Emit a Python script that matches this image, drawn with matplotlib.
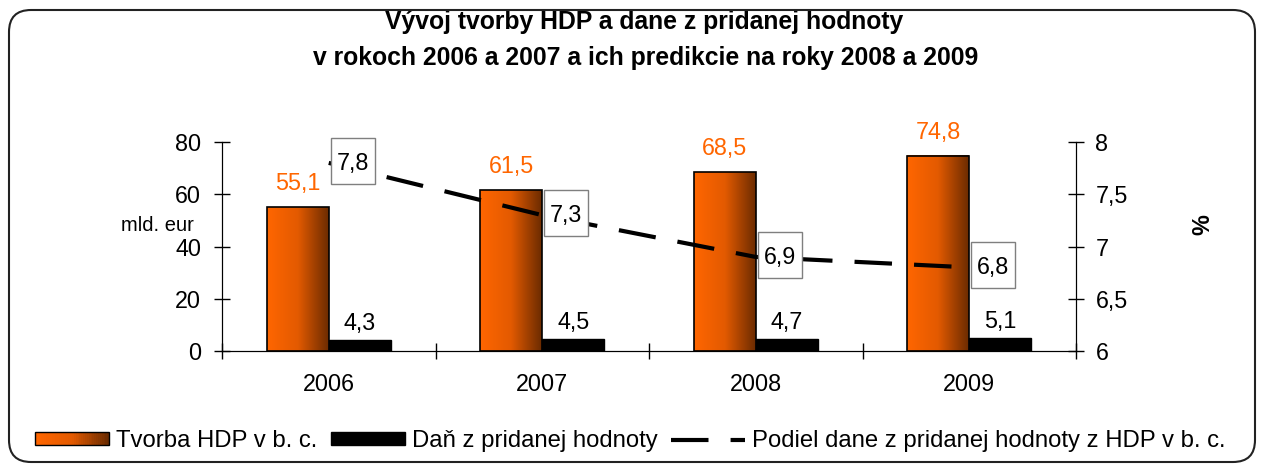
import matplotlib
matplotlib.use("Agg")
import matplotlib.pyplot as plt
import numpy as np
from matplotlib.patches import Rectangle, FancyBboxPatch
from matplotlib.lines import Line2D
from matplotlib.legend_handler import HandlerBase
from matplotlib.colors import LinearSegmentedColormap
from matplotlib.transforms import IdentityTransform

plt.rcParams['font.family'] = ['Liberation Sans', 'DejaVu Sans']

years = ["2006", "2007", "2008", "2009"]
hdp = [55.1, 61.5, 68.5, 74.8]
dph = [4.3, 4.5, 4.7, 5.1]
share = [7.8, 7.3, 6.9, 6.8]
left_ticks = [0, 20, 40, 60, 80]
right_ticks = [6, 6.5, 7, 7.5, 8]

def fmt(v):
    return ("%g" % v).replace(".", ",")

W, H = 1261, 465
fig = plt.figure(figsize=(W / 100, H / 100), dpi=100)

orange = "#FF6600"
cmap = LinearSegmentedColormap.from_list("g", ["#FF6600", "#E35A00", "#6B2B00"])

ax = fig.add_axes([222 / W, 1 - 351 / H, (1076 - 222) / W, (351 - 142) / H])
ax2 = ax.twinx()

x = np.arange(len(years))
bw = 0.29
fs = 16.8

bars = ax.bar(x - bw / 2, hdp, bw, facecolor="none", edgecolor="black", linewidth=1.2, zorder=3)
grad = np.linspace(0, 1, 256).reshape(1, -1)
for b in bars:
    x0, y0 = b.get_x(), b.get_y()
    ax.imshow(grad, cmap=cmap, aspect="auto", extent=[x0, x0 + b.get_width(), y0, y0 + b.get_height()],
              zorder=2, interpolation="bilinear")
ax.bar(x + bw / 2, dph, bw, color="black", edgecolor="black", zorder=3)

ax.set_xlim(-0.5, 3.5)
ax.set_ylim(0, 80)
ax.set_yticks(left_ticks)
ax.set_yticklabels([fmt(v) for v in left_ticks])
ax.set_xticks(x)
ax.set_xticklabels(years)
ax.set_xticks(np.arange(-0.5, 4, 1), minor=True)
ax.tick_params(axis="x", which="major", length=0, pad=16, labelsize=fs)
ax.tick_params(axis="x", which="minor", direction="inout", length=12, width=1)
ax.tick_params(axis="y", direction="inout", length=12, width=1, pad=9, labelsize=fs)

for i in x:
    ax.annotate(fmt(hdp[i]), (i - bw / 2, hdp[i]), xytext=(0, 12), textcoords="offset pixels",
                color=orange, ha="center", va="bottom", fontsize=fs, zorder=5)
    ax.annotate(fmt(dph[i]), (i + bw / 2, dph[i]), xytext=(0, 5), textcoords="offset pixels",
                color="black", ha="center", va="bottom", fontsize=fs, zorder=5)

ax.spines["top"].set_visible(False)
ax2.spines["top"].set_visible(False)

ax2.set_ylim(6, 8)
ax2.set_yticks(right_ticks)
ax2.set_yticklabels([fmt(v) for v in right_ticks])
ax2.tick_params(axis="y", direction="inout", length=12, width=1, pad=8, labelsize=fs)
line, = ax2.plot(x, share, color="black", linewidth=3, zorder=4)
line.set_dashes((9, 5.3))

# boxed labels for the share line (box drawn in pixel space next to each point)
bw_px, bh_px = 44, 46
for i in x:
    px, py = ax2.transData.transform((x[i], share[i]))
    rect = Rectangle((px + 2, py - bh_px / 2 + 2), bw_px, bh_px, transform=IdentityTransform(),
                     facecolor="white", edgecolor="#7f7f7f", linewidth=1, zorder=6)
    fig.patches.append(rect)
    fig.text((px + 2 + bw_px / 2) / W, (py + 2) / H, fmt(share[i]), ha="center", va="center_baseline",
             fontsize=fs, zorder=7)

fig.text(157 / W, 1 - 225 / H, "mld. eur", ha="center", va="center", fontsize=14.5)
fig.text(1203 / W, 1 - 225 / H, "%", ha="center", va="center", fontsize=fs, rotation=90, fontweight="bold")

fig.text(644 / W, 1 - 22 / H, "Vývoj tvorby HDP a dane z pridanej hodnoty", ha="center", va="center",
         fontsize=17.8, fontweight="bold")
fig.text(646 / W, 1 - 58 / H, "v rokoch 2006 a 2007 a ich predikcie na roky 2008 a 2009", ha="center",
         va="center", fontsize=17.8, fontweight="bold")


class GradHandler(HandlerBase):
    def create_artists(self, legend, orig_handle, xdescent, ydescent, width, height, fontsize, trans):
        n = 40
        arts = []
        for k in range(n):
            r = Rectangle((-xdescent + k * width / n, -ydescent), width / n * 1.05, height,
                          facecolor=cmap(k / (n - 1)), edgecolor="none", transform=trans)
            arts.append(r)
        arts.append(Rectangle((-xdescent, -ydescent), width, height, facecolor="none",
                              edgecolor="black", linewidth=1, transform=trans))
        return arts


h1 = Rectangle((0, 0), 1, 1, facecolor=orange)
h2 = Rectangle((0, 0), 1, 1, facecolor="black", edgecolor="black")
h3 = Line2D([], [], color="black", linewidth=3, dashes=(9, 5.3))
leg = fig.legend([h1, h2, h3],
                 ["Tvorba HDP v b. c.", "Daň z pridanej hodnoty", "Podiel dane z pridanej hodnoty z HDP v b. c."],
                 handler_map={h1: GradHandler()}, loc="center left", bbox_to_anchor=(35 / W, 1 - 441 / H),
                 ncol=3, frameon=False, fontsize=17.2, handlelength=3.1, handleheight=0.42,
                 handletextpad=0.3, columnspacing=0.55, borderaxespad=0, borderpad=0)

frame = FancyBboxPatch((9, 3), 1246, 452, boxstyle="round,pad=0,rounding_size=22",
                       transform=IdentityTransform(), facecolor="none", edgecolor="#222222",
                       linewidth=1.5, zorder=10)
fig.patches.append(frame)

fig.savefig("out.png", dpi=100)
